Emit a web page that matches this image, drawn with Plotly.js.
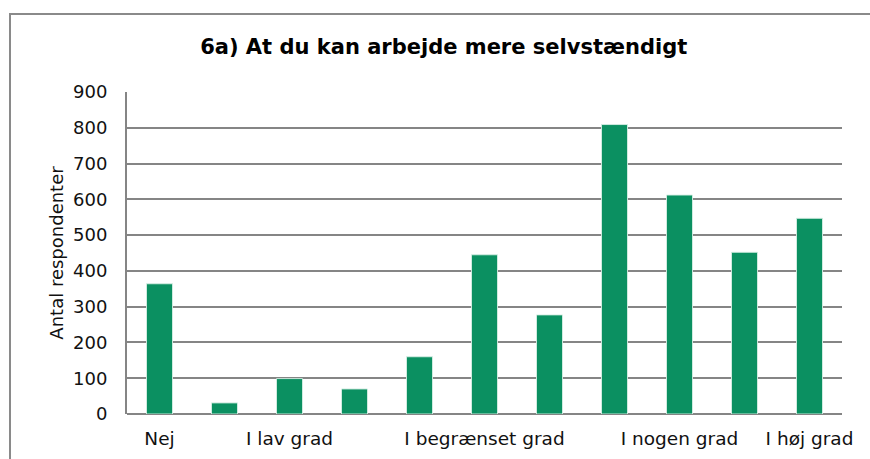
<!DOCTYPE html>
<html>
<head>
<meta charset="utf-8">
<script src="https://cdn.plot.ly/plotly-3.0.1.min.js"></script>
<style>
  html, body { margin: 0; padding: 0; overflow: hidden; background: #fff; }
  #frame { position: absolute; left: 9px; top: 13px; width: 900px; height: 500px;
           border: 2px solid #8a8a8a; box-sizing: border-box; pointer-events: none; z-index: 2; }
  #chart { position: absolute; left: 0; top: 0; width: 870px; height: 459px; }
</style>
</head>
<body>
<div id="chart"></div>
<div id="frame"></div>
<script>
// Response scale positions (11 answer steps)
const scalePositions = [0, 1, 2, 3, 4, 5, 6, 7, 8, 9, 10];
// Number of respondents per step
const respondents = [364, 31, 99, 70, 160, 445, 277, 809, 612, 452, 547];
// Labelled steps on the category axis
const tickPositions = [0, 2, 5, 8, 10];
const tickLabels = ["Nej", "I lav grad", "I begrænset grad", "I nogen grad", "I høj grad"];
const yTicks = [0, 100, 200, 300, 400, 500, 600, 700, 800, 900];

const trace = {
  type: "bar",
  x: scalePositions,
  y: respondents,
  marker: { color: "#0b9061", line: { color: "rgba(215,238,228,0.9)", width: 1 } },
  hoverinfo: "y"
};

const font = { family: "DejaVu Sans, Verdana, sans-serif", size: 18, color: "#111" };

const layout = {
  width: 870,
  height: 459,
  margin: { l: 127, r: 28, t: 92, b: 45 },
  paper_bgcolor: "rgba(0,0,0,0)",
  plot_bgcolor: "#fff",
  bargap: 0.6,
  showlegend: false,
  font: font,
  title: {
    text: "<b>6a) At du kan arbejde mere selvstændigt</b>",
    font: { family: "DejaVu Sans, Verdana, sans-serif", size: 21, color: "#000" },
    xref: "container", x: 0.51, xanchor: "center",
    yref: "container", y: 0.898, yanchor: "middle"
  },
  xaxis: {
    range: [-0.5, 10.5],
    tickmode: "array",
    tickvals: tickPositions,
    ticktext: tickLabels,
    showgrid: false,
    zeroline: false,
    showline: false,
    ticks: "",
    ticklabelstandoff: 11,
    tickfont: { family: "DejaVu Sans, Verdana, sans-serif", size: 18.5, color: "#111" }
  },
  yaxis: {
    range: [0, 900],
    tickmode: "array",
    tickvals: yTicks,
    showgrid: true,
    gridcolor: "#858585",
    gridwidth: 2,
    zeroline: true,
    zerolinecolor: "#858585",
    zerolinewidth: 2,
    showline: true,
    linecolor: "#858585",
    linewidth: 2,
    ticks: "",
    ticklabelstandoff: 14,
    tickfont: font,
    title: { text: "Antal respondenter", font: font, standoff: 5 }
  }
};

Plotly.newPlot("chart", [trace], layout, { displayModeBar: false, staticPlot: true });
</script>
</body>
</html>
